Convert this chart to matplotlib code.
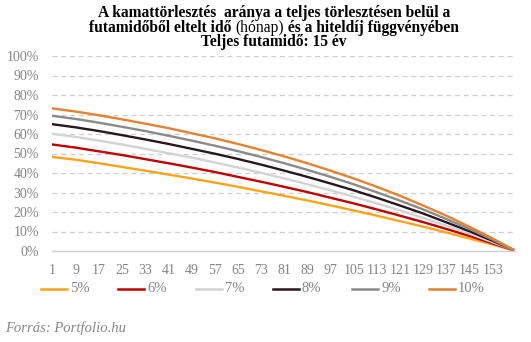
import matplotlib
matplotlib.use("Agg")
import matplotlib.pyplot as plt
from matplotlib.lines import Line2D
from matplotlib.ticker import FuncFormatter

# months elapsed (sample points along the 160-month schedule)
months = [1, 9, 17, 25, 33, 41, 49, 57, 65, 73, 81, 89, 97, 105, 113, 121, 129, 137, 145, 153, 160]

# interest share of the monthly instalment, %
rate_5 = [48.2, 46.8, 45.0, 43.1, 41.2, 39.2, 37.2, 35.1, 32.9, 30.6, 28.3, 25.9, 23.4, 20.8, 18.1, 15.3, 12.5, 9.5, 6.4, 3.3, 0.4]
rate_6 = [54.6, 53.0, 51.1, 49.2, 47.1, 45.0, 42.8, 40.5, 38.0, 35.5, 32.9, 30.2, 27.3, 24.4, 21.3, 18.1, 14.8, 11.3, 7.7, 3.9, 0.5]
rate_7 = [60.1, 58.5, 56.6, 54.6, 52.4, 50.1, 47.9, 45.4, 42.8, 40.1, 37.2, 34.2, 31.1, 27.8, 24.4, 20.8, 17.0, 13.0, 8.9, 4.5, 0.6]
rate_8 = [65.0, 63.4, 61.5, 59.4, 57.2, 54.9, 52.4, 49.9, 47.2, 44.3, 41.2, 38.0, 34.6, 31.1, 27.3, 23.3, 19.2, 14.7, 10.1, 5.2, 0.7]
rate_9 = [69.3, 67.7, 65.8, 63.7, 61.5, 59.1, 56.6, 54.0, 51.2, 48.2, 45.0, 41.6, 38.0, 34.2, 30.1, 25.8, 21.3, 16.4, 11.3, 5.8, 0.7]
rate_10 = [73.1, 71.5, 69.6, 67.5, 65.3, 63.0, 60.4, 57.8, 54.9, 51.8, 48.5, 45.0, 41.2, 37.2, 32.9, 28.3, 23.3, 18.1, 12.4, 6.4, 0.8]

series_labels = ["5%", "6%", "7%", "8%", "9%", "10%"]
series_values = [rate_5, rate_6, rate_7, rate_8, rate_9, rate_10]
series_colors = ["#ffa31a", "#c00000", "#d3d3d3", "#2a1620", "#8a8a8a", "#e3822f"]

tick_months = [1, 9, 17, 25, 33, 41, 49, 57, 65, 73, 81, 89, 97, 105, 113, 121, 129, 137, 145, 153]

W, H = 531, 342
fig = plt.figure(figsize=(W / 100, H / 100), dpi=100)
fig.patch.set_facecolor("white")

serif = ["Liberation Serif", "DejaVu Serif"]
grey_txt = "#868686"

ax = fig.add_axes([52 / W, 1 - 251 / H, (515 - 52) / W, (251 - 56) / H])
ax.set_facecolor("white")

for vals, col in zip(series_values, series_colors):
    ax.plot(months, vals, color=col, lw=1.7, solid_joinstyle="round", zorder=3)

ax.set_xlim(0.75, 160.7)
ax.set_ylim(0, 100)
ax.set_yticks(range(0, 101, 10))
ax.yaxis.set_major_formatter(FuncFormatter(lambda v, p: f"{int(v)}%"))
ax.set_xticks(tick_months)
ax.set_xticklabels([str(m) for m in tick_months])

ax.grid(axis="y", color="#cfcfcf", lw=0.9, linestyle=(0, (4, 3)), zorder=0)
ax.grid(axis="x", visible=False)
for s in ["top", "right", "left"]:
    ax.spines[s].set_visible(False)
ax.spines["bottom"].set_color("#cfcfcf")
ax.spines["bottom"].set_linewidth(1.0)
ax.tick_params(axis="both", length=0)
ax.tick_params(axis="y", pad=9.5, labelsize=10, labelcolor=grey_txt)
ax.tick_params(axis="x", pad=9.5, labelsize=10, labelcolor=grey_txt)
for lab in ax.get_xticklabels() + ax.get_yticklabels():
    lab.set_family(serif)

# legend row below the axis
leg_y = 1 - 289 / H
leg_x = [41, 118, 196, 273, 352, 429]
for x0, lab, col in zip(leg_x, series_labels, series_colors):
    fig.add_artist(Line2D([x0 / W, (x0 + 26) / W], [leg_y, leg_y], color=col, lw=1.8,
                          transform=fig.transFigure))
    fig.text((x0 + 29) / W, leg_y, lab, ha="left", va="center", fontsize=10.5,
             color=grey_txt, family=serif)

# title, second line mixes bold and regular weight
fig.canvas.draw()
renderer = fig.canvas.get_renderer()
cx = 274
title_size = 11.2
fig.text(cx / W, 1 - 13 / H, "A kamattörlesztés  aránya a teljes törlesztésen belül a",
         ha="center", va="center", fontsize=title_size, fontweight="bold", family=serif)
fig.text(cx / W, 1 - 42 / H, "Teljes futamidő: 15 év",
         ha="center", va="center", fontsize=title_size, fontweight="bold", family=serif)

parts = [("futamidőből eltelt idő ", "bold"), ("(hónap)", "normal"),
         (" és a hiteldíj függvényében", "bold")]
texts = []
for s, wgt in parts:
    t = fig.text(0, 1 - 27.5 / H, s, ha="left", va="center", fontsize=title_size,
                 fontweight=wgt, family=serif)
    texts.append(t)
widths = [t.get_window_extent(renderer).width for t in texts]
x = cx - sum(widths) / 2
for t, w in zip(texts, widths):
    t.set_x(x / W)
    x += w

fig.text(5 / W, 1 - 328 / H, "Forrás: Portfolio.hu", ha="left", va="center",
         fontsize=10.5, style="italic", color=grey_txt, family=serif)

fig.savefig("out.png", dpi=100, facecolor="white")
